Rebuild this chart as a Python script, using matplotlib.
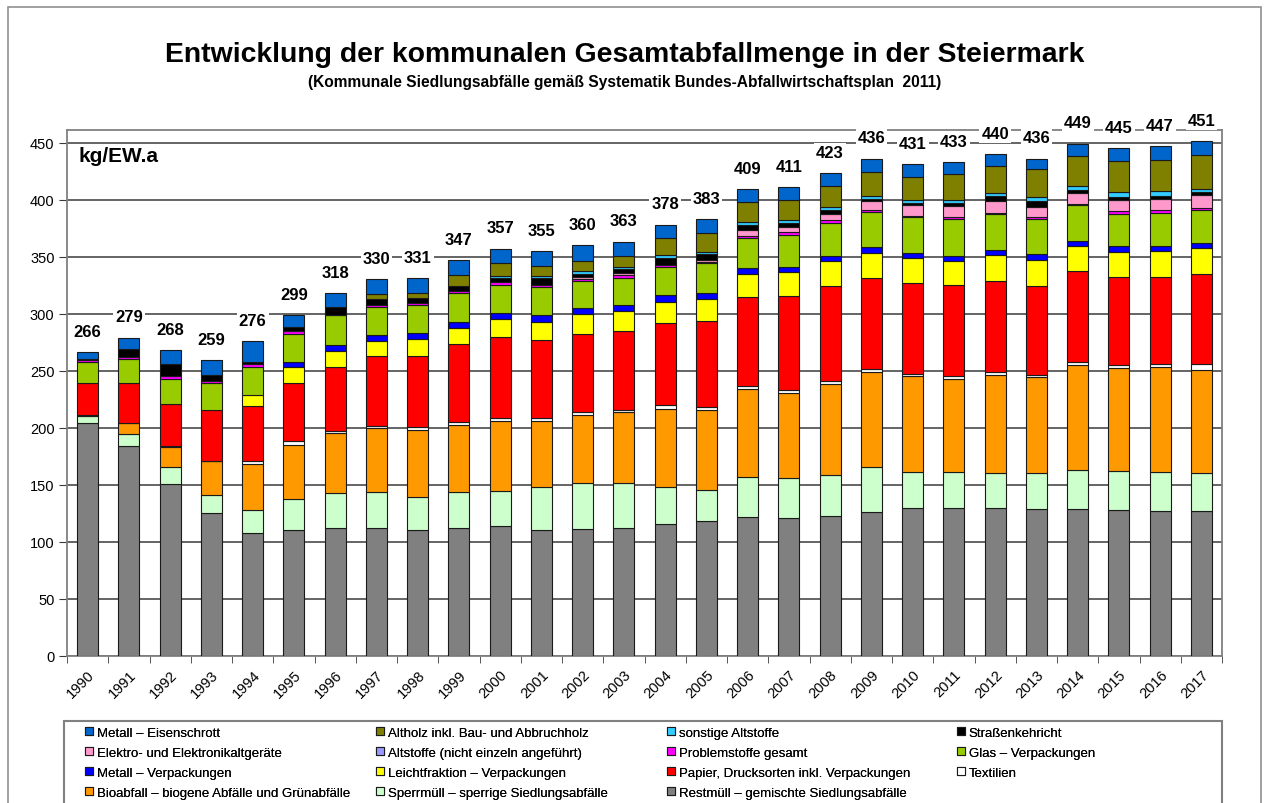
import numpy as np
import matplotlib
matplotlib.use("Agg")
import matplotlib.pyplot as plt
from matplotlib.patches import Rectangle

plt.rcParams['font.family'] = ['Liberation Sans', 'DejaVu Sans']

# Jahre und Summen (Beschriftung über den Säulen)
jahre = [str(j) for j in range(1990, 2018)]
summen = [266, 279, 268, 259, 276, 299, 318, 330, 331, 347, 357, 355, 360, 363,
          378, 383, 409, 411, 423, 436, 431, 433, 440, 436, 449, 445, 447, 451]

# Fraktionen in kg/EW.a (von unten nach oben gestapelt)
restmuell = [204, 184, 151, 125, 108, 110, 112.5, 112.5, 110, 112.5, 113.5, 110, 111, 112.5,
             115.5, 118, 122, 121, 123, 126, 130, 130, 129.5, 129, 129, 128, 127.5, 127.5]
sperrmuell = [6, 11, 15, 16, 20, 28, 30.5, 31, 29.5, 31, 31, 38.5, 40.5, 39.5,
              33, 27.5, 35, 35, 35.5, 39.5, 31, 31, 31, 31.5, 34, 34, 34, 33]
bioabfall = [0, 9, 17.5, 29.5, 40.5, 47, 52.5, 56, 59, 59, 61.5, 57.5, 60, 61.5,
             68, 70, 77, 74.5, 79.5, 83, 84, 82, 86, 84, 92, 90, 91.5, 90.5]
textilien = [1, 0.5, 0.5, 0.5, 2, 3, 2, 2, 2, 2.5, 3, 2.5, 2.5, 2.5,
             3.5, 3, 2.5, 2.5, 3, 3, 2.5, 2, 2.5, 2, 3, 3, 3, 4.5]
papier = [28, 35, 36.5, 44.5, 49, 51, 55.5, 61, 62.5, 68.5, 71, 68.5, 68.5, 69,
          72, 75, 78, 82.5, 83.5, 80, 79, 80, 79.5, 78, 79, 77, 76, 79]
leichtfraktion = [0, 0, 0, 0, 9, 14.5, 14.5, 13.5, 14.5, 14, 15, 16, 17, 17.5,
                  18.5, 19, 20.5, 21, 22, 22, 22, 21.5, 23, 22.5, 22.5, 22.5, 23, 23]
metall_verp = [0, 0, 0, 0, 0, 4.5, 5.5, 5.5, 5.5, 5.5, 5.5, 5.5, 5.5, 5.5,
               5.5, 5.5, 5, 4.5, 4.5, 5, 5, 4.5, 4, 5, 4.5, 4.5, 4.5, 4.5]
glas = [19, 21, 22.5, 23.5, 25, 24.5, 25.5, 24.5, 24.5, 25, 25, 25, 24, 23.5,
        25, 26, 26, 28, 28.5, 30.5, 31, 32, 31.5, 31, 31, 28.5, 28.5, 28.5]
problemstoffe = [1, 1.5, 2, 2, 2, 2, 0.5, 2, 2, 2, 2, 2, 1.5, 2,
                 2, 1.5, 2.5, 2.5, 3, 2, 1, 1.5, 1.5, 1.5, 1, 2.5, 2.5, 2.5]
altstoffe_nea = [0, 0, 0, 0, 0, 0, 0, 0, 0, 0, 0, 0, 0, 0,
                 0, 0, 0, 0, 0, 0, 0, 0, 0, 0, 0, 0, 0, 0]
elektro = [0, 0, 0, 0, 0, 0, 0, 0, 0, 0, 0, 0, 1.5, 2,
           0, 2, 4.5, 4.5, 5, 7.5, 9.5, 10, 10, 9, 10, 9.5, 10, 11]
strassenkehricht = [1, 7, 11, 5, 2.5, 4, 6.5, 4.5, 4, 4.5, 3.5, 5.5, 2.5, 3.5,
                    6, 5, 5, 3.5, 3, 2, 2, 2.5, 4.5, 5.5, 2, 3, 2.5, 2.5]
sonstige_altstoffe = [0, 0, 0, 0, 0, 0, 0, 0, 0, 0, 2, 2, 2.5, 2,
                      2.5, 2, 2, 2.5, 3, 3, 2.5, 2.5, 3, 3, 3.5, 4, 4.5, 3]
altholz = [0, 0, 0, 0, 0, 0, 0, 4.5, 4.5, 9, 11, 8.5, 9.5, 10,
           14.5, 16, 17.5, 18, 18.5, 21, 20.5, 23, 23.5, 25, 27, 27, 27, 29.5]
eisenschrott = [6, 10, 12, 13, 18, 10.5, 12.5, 13, 13, 13.5, 13, 13.5, 13.5, 12,
                12, 12.5, 11.5, 11, 11, 11.5, 11, 10.5, 10.5, 9, 10.5, 11.5, 12.5, 12]

serien = [
    (restmuell, '#808080', 'Restmüll – gemischte Siedlungsabfälle'),
    (sperrmuell, '#CCFFCC', 'Sperrmüll – sperrige Siedlungsabfälle'),
    (bioabfall, '#FF9900', 'Bioabfall – biogene Abfälle und Grünabfälle'),
    (textilien, '#FFFFFF', 'Textilien'),
    (papier, '#FF0000', 'Papier, Drucksorten inkl. Verpackungen'),
    (leichtfraktion, '#FFFF00', 'Leichtfraktion – Verpackungen'),
    (metall_verp, '#0000FF', 'Metall – Verpackungen'),
    (glas, '#99CC00', 'Glas – Verpackungen'),
    (problemstoffe, '#FF00FF', 'Problemstoffe gesamt'),
    (altstoffe_nea, '#9999FF', 'Altstoffe (nicht einzeln angeführt)'),
    (elektro, '#FF99CC', 'Elektro- und Elektronikaltgeräte'),
    (strassenkehricht, '#000000', 'Straßenkehricht'),
    (sonstige_altstoffe, '#33CCFF', 'sonstige Altstoffe'),
    (altholz, '#808000', 'Altholz inkl. Bau- und Abbruchholz'),
    (eisenschrott, '#0066CC', 'Metall – Eisenschrott'),
]

W, H = 1265, 804
fig = plt.figure(figsize=(W / 100, H / 100), dpi=100)
ax = fig.add_axes([67 / W, 1 - 657 / H, (1222 - 67) / W, (657 - 131) / H])

x = np.arange(len(jahre))
unten = np.zeros(len(jahre))
handles = {}
for werte, farbe, name in serien:
    v = np.array(werte, dtype=float)
    h = ax.bar(x, np.where(v > 0, v, np.nan), 0.51, bottom=unten, color=farbe,
               edgecolor='#1a1a1a', linewidth=0.8, zorder=3)
    handles[name] = h
    unten += v

# Summen über den Säulen
for xi, top, s in zip(x, unten, summen):
    ax.annotate(str(s), (xi, top), xytext=(0, 15), textcoords='offset points',
                ha='center', va='center', fontsize=12, fontweight='bold',
                bbox=dict(facecolor='white', edgecolor='none', pad=1.5), zorder=10)

ax.set_xlim(-0.5, len(jahre) - 0.5)
ax.set_ylim(0, 461)
ax.set_yticks(range(0, 451, 50))
ax.yaxis.grid(True, color='#3a3a3a', linewidth=1.1)
ax.set_axisbelow(True)
ax.tick_params(axis='y', length=6, color='#3a3a3a', labelsize=10.5, pad=3)
ax.set_xticks(x)
ax.set_xticklabels(jahre, rotation=45, ha='right', rotation_mode='anchor', fontsize=10.5)
ax.tick_params(axis='x', length=0, pad=8)
ax.set_xticks(np.arange(-0.5, len(jahre), 1), minor=True)
ax.tick_params(axis='x', which='minor', length=5, color='#3a3a3a')
for sp in ax.spines.values():
    sp.set_color('#808080')
    sp.set_linewidth(1.3)

ax.text(11 / 1155, 1 - 26 / 526, 'kg/EW.a', transform=ax.transAxes, fontsize=15,
        fontweight='bold', va='center', ha='left', zorder=10)

fig.text(625 / W, 1 - 55 / H, 'Entwicklung der kommunalen Gesamtabfallmenge in der Steiermark',
         ha='center', va='center', fontsize=20.4, fontweight='bold')
fig.text(625 / W, 1 - 83 / H,
         '(Kommunale Siedlungsabfälle gemäß Systematik Bundes-Abfallwirtschaftsplan  2011)',
         ha='center', va='center', fontsize=11.2, fontweight='bold')

# Legende: vier Spalten an festen Positionen, zeilenweise wie im Original
spalten = [
    ['Metall – Eisenschrott', 'Elektro- und Elektronikaltgeräte', 'Metall – Verpackungen',
     'Bioabfall – biogene Abfälle und Grünabfälle'],
    ['Altholz inkl. Bau- und Abbruchholz', 'Altstoffe (nicht einzeln angeführt)',
     'Leichtfraktion – Verpackungen', 'Sperrmüll – sperrige Siedlungsabfälle'],
    ['sonstige Altstoffe', 'Problemstoffe gesamt', 'Papier, Drucksorten inkl. Verpackungen',
     'Restmüll – gemischte Siedlungsabfälle'],
    ['Straßenkehricht', 'Glas – Verpackungen', 'Textilien'],
]
spalten_x = [81, 372, 663, 953]
for sx, namen in zip(spalten_x, spalten):
    lg = fig.legend([handles[n] for n in namen], namen, loc='upper left',
                    bbox_to_anchor=(sx / W, 1 - 724 / H), frameon=False,
                    fontsize=9.5, handlelength=0.6, handleheight=0.6,
                    handletextpad=0.3, labelspacing=0.6, borderaxespad=0, borderpad=0.3)
    fig.add_artist(lg)

fig.patches.append(Rectangle((64 / W, -0.01), (1222 - 64) / W, 0.01 + 1 - 722 / H,
                             transform=fig.transFigure, fill=False,
                             edgecolor='#808080', linewidth=1.5))

# Rahmen um das ganze Diagramm
fig.patches.append(Rectangle((8 / W, -0.01), 1 - 12 / W, 1 - 8 / H + 0.01,
                             transform=fig.transFigure, fill=False,
                             edgecolor='#909090', linewidth=1.2))

fig.savefig('out.png', dpi=100)
